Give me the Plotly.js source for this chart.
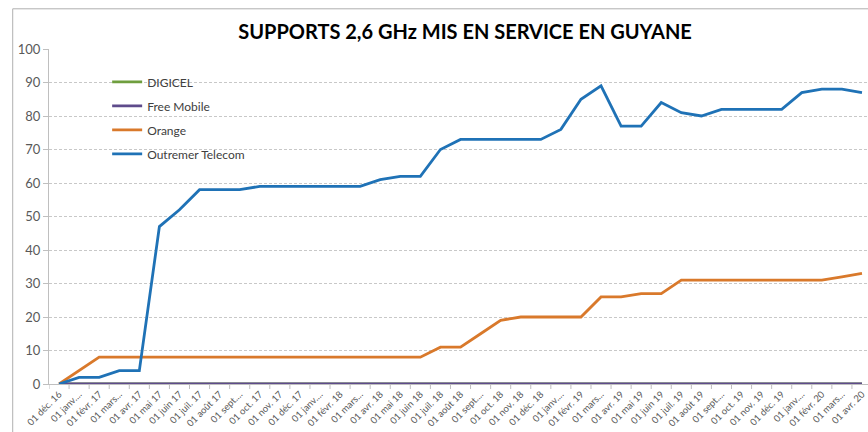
<!DOCTYPE html>
<html>
<head>
<meta charset="utf-8">
<script src="https://cdn.plot.ly/plotly-3.0.1.min.js"></script>
<style>
html,body{margin:0;padding:0;background:#fff;}
#chart{width:868px;height:432px;}
</style>
</head>
<body>
<div id="chart"></div>
<script>
const months = ["01 déc. 16","01 janv....","01 févr. 17","01 mars...","01 avr. 17","01 mai 17","01 juin 17","01 juil. 17","01 août 17","01 sept....","01 oct. 17","01 nov. 17","01 déc. 17","01 janv....","01 févr. 18","01 mars...","01 avr. 18","01 mai 18","01 juin 18","01 juil. 18","01 août 18","01 sept....","01 oct. 18","01 nov. 18","01 déc. 18","01 janv....","01 févr. 19","01 mars...","01 avr. 19","01 mai 19","01 juin 19","01 juil. 19","01 août 19","01 sept....","01 oct. 19","01 nov. 19","01 déc. 19","01 janv....","01 févr. 20","01 mars...","01 avr. 20"];

const digicel = [0,0,0,0,0,0,0,0,0,0,0,0,0,0,0,0,0,0,0,0,0,0,0,0,0,0,0,0,0,0,0,0,0,0,0,0,0,0,0,0,0];
const freeMobile = [0,0,0,0,0,0,0,0,0,0,0,0,0,0,0,0,0,0,0,0,0,0,0,0,0,0,0,0,0,0,0,0,0,0,0,0,0,0,0,0,0];
const orange = [0,4,8,8,8,8,8,8,8,8,8,8,8,8,8,8,8,8,8,11,11,15,19,20,20,20,20,26,26,27,27,31,31,31,31,31,31,31,31,32,33];
const outremer = [0,2,2,4,4,47,52,58,58,58,59,59,59,59,59,59,61,62,62,70,73,73,73,73,73,76,85,89,77,77,84,81,80,82,82,82,82,87,88,88,87];

const xs = months.map((m, i) => i);

function tr(name, y, color, grp) {
  return {
    type: 'scatter', mode: 'lines', name: name, x: xs, y: y,
    legendgroup: grp, cliponaxis: false,
    line: {color: color, width: 2.8}
  };
}

const data = [
  tr('DIGICEL', digicel, '#6f9e3e', 'a'),
  tr('Free Mobile', freeMobile, '#5e4b8b', 'b'),
  tr('Orange', orange, '#d9792b', 'c'),
  tr('Outremer Telecom', outremer, '#1f72b6', 'd')
];

const layout = {
  width: 868, height: 432,
  margin: {l: 49, r: 0, t: 49, b: 48},
  paper_bgcolor: '#fff', plot_bgcolor: '#fff',
  font: {family: 'Lato, "Open Sans", sans-serif', color: '#595959'},
  title: {
    text: '<b>SUPPORTS 2,6 GHz MIS EN SERVICE EN GUYANE</b>',
    font: {family: 'Lato, "Open Sans", sans-serif', size: 20, color: '#000'},
    x: 0.508, xanchor: 'center', xref: 'paper', y: 0.926, yanchor: 'middle'
  },
  showlegend: true,
  legend: {
    x: 0.071, y: 0.945, xanchor: 'left', yanchor: 'top',
    bgcolor: 'rgba(0,0,0,0)', tracegroupgap: 5,
    font: {size: 12, color: '#404040'}, itemwidth: 30
  },
  xaxis: {
    type: 'linear',
    tickmode: 'array', tickvals: xs, ticktext: months,
    range: [-0.5, 40.3],
    tickangle: -45,
    tickfont: {size: 9.5, color: '#595959'},
    showgrid: false, zeroline: false,
    showline: true, linecolor: '#bfbfbf', linewidth: 1,
    ticks: '', 
    layer: 'below traces'
  },
  yaxis: {
    range: [0, 100], dtick: 10,
    tickfont: {size: 13, color: '#595959'},
    showgrid: true, gridcolor: '#c8c8c8', griddash: '3px,2px', gridwidth: 1,
    zeroline: false,
    showline: true, linecolor: '#bfbfbf', linewidth: 1,
    ticks: 'outside', ticklen: 5, tickcolor: '#bfbfbf',
    layer: 'below traces'
  },
  shapes: [
    {type: 'rect', xref: 'paper', yref: 'paper', x0: -0.0443, x1: 1.05, y0: -0.3, y1: 1.12,
     line: {color: '#b0b0b0', width: 1}, fillcolor: 'rgba(0,0,0,0)', layer: 'above'}
  ]
};

// x tick marks between categories
for (let i = 0; i <= months.length; i++) {
  const b = i - 0.5;
  layout.shapes.push({type: 'line', xref: 'x', yref: 'paper', x0: b, x1: b, y0: 0, y1: -0.015,
    line: {color: '#bfbfbf', width: 1}});
}

Plotly.newPlot('chart', data, layout, {displayModeBar: false, staticPlot: true});
</script>
</body>
</html>
